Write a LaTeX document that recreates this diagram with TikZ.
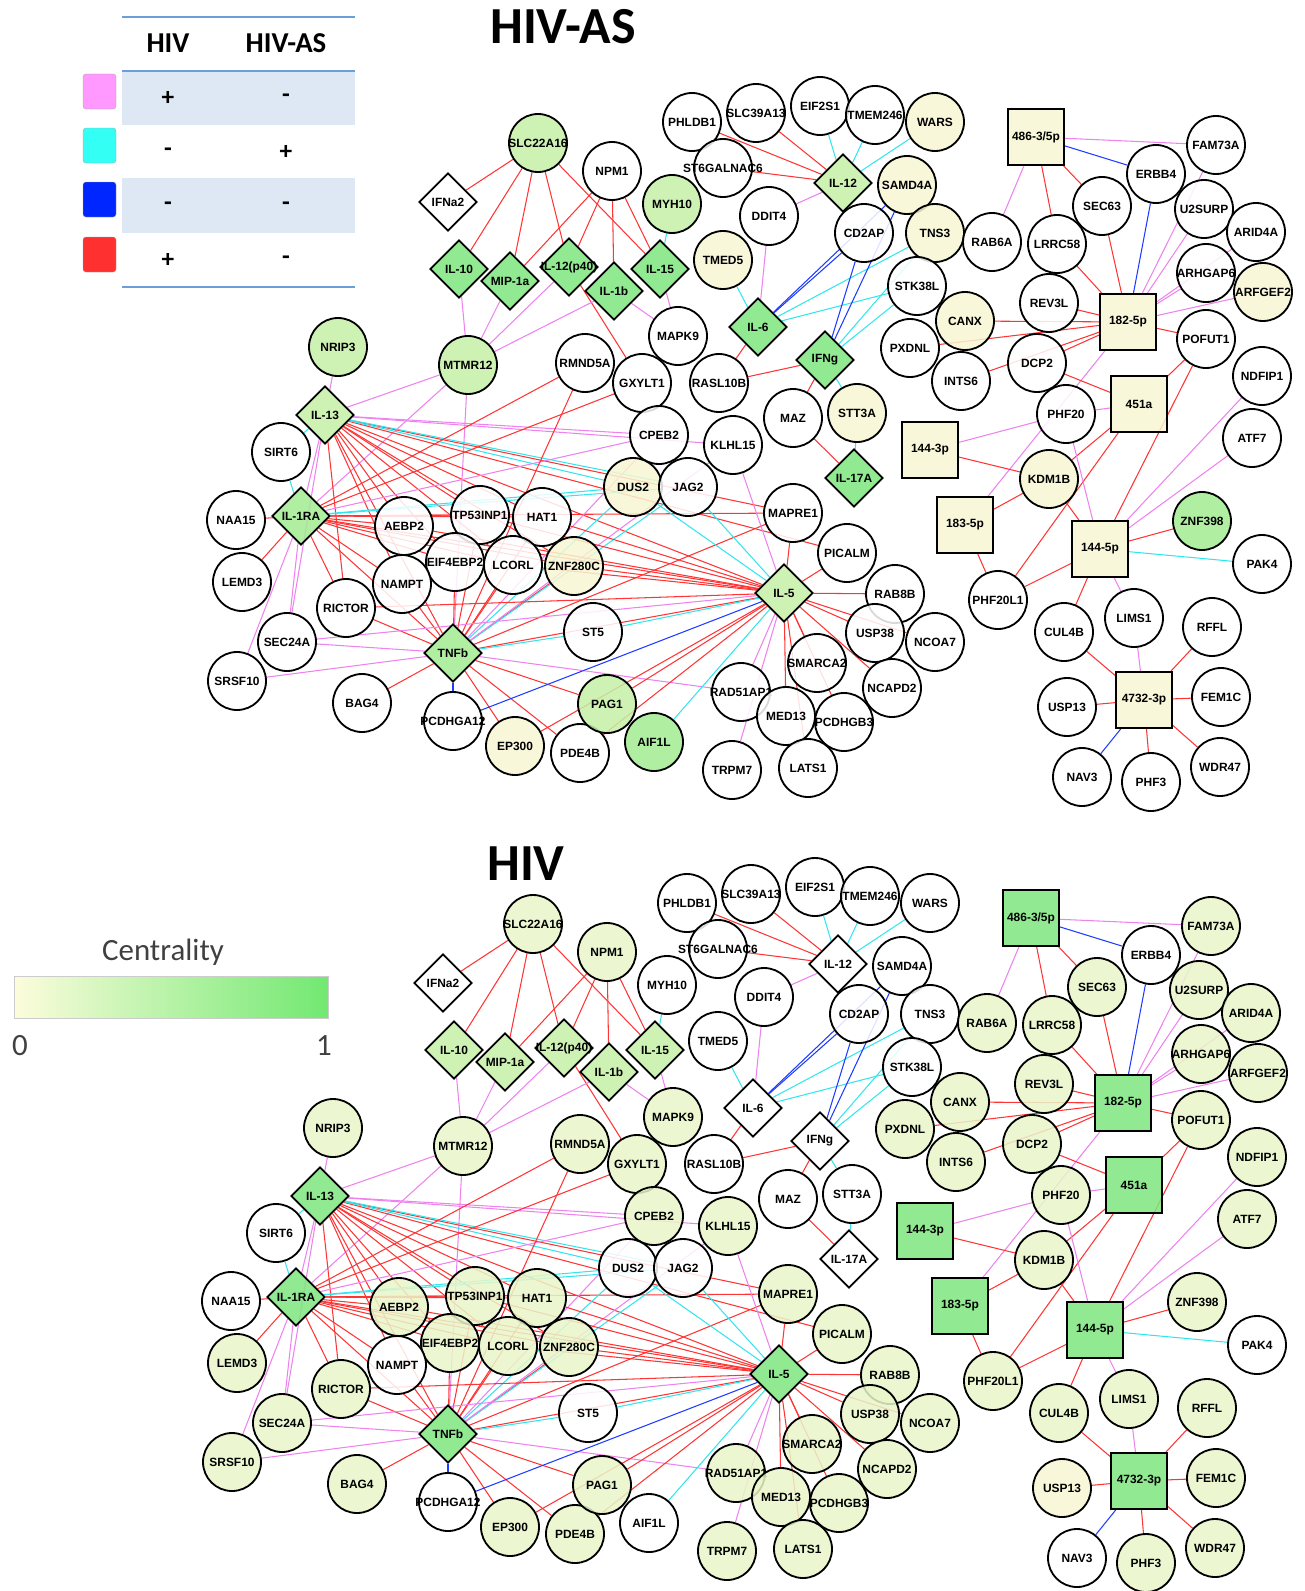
\documentclass[tikz,border=0pt]{standalone}
\usepackage{fontspec}
\newfontfamily\lsans{Liberation Sans}
\newfontfamily\carl{Carlito}
\usetikzlibrary{shapes.geometric,backgrounds}

\definecolor{nw}{HTML}{FFFFFF}
\definecolor{py}{HTML}{F7F6D2}
\definecolor{ly}{HTML}{E9F6C9}
\definecolor{lg}{HTML}{C6F0A6}
\definecolor{mg}{HTML}{A2EB92}
\definecolor{dg}{HTML}{7EE67E}
\definecolor{er}{HTML}{FF3535}
\definecolor{ep}{HTML}{EE82EE}
\definecolor{ec}{HTML}{33E6EE}
\definecolor{eb}{HTML}{1E3CFF}
\definecolor{rule}{HTML}{6C9FD8}
\definecolor{band}{HTML}{DEE8F4}

\newcommand{\genefont}{\lsans\bfseries\fontsize{17}{19}\selectfont}

\tikzset{
  gene/.style={circle,draw=black,line width=2.6pt,minimum size=2.9cm,inner sep=0pt,
    font=\genefont,fill opacity=0.85,text opacity=1},
  cyto/.style={gene,diamond,aspect=1,minimum size=2.9cm},
  mirna/.style={gene,rectangle,minimum size=2.8cm},
  link/.style={line width=1.5pt},
  rulez/.style={rule,line width=2.5pt},
  sign/.style={font=\carl\bfseries\fontsize{36}{38}\selectfont}
}

\begin{document}
\begin{tikzpicture}[x=0.05cm,y=-0.05cm]
\useasboundingbox (0,0) rectangle (1304,1591);

% legend: edge colours
\fill[band] (122,71) rectangle (355,125);
\fill[band] (122,178) rectangle (355,233);
\draw[rulez] (122,17) -- (355,17);
\draw[rulez] (122,71) -- (355,71);
\draw[rulez] (122,287) -- (355,287);
\node[font=\carl\bfseries\fontsize{41}{44}\selectfont] (hhiv) at (168,43) {HIV};
\node[font=\carl\bfseries\fontsize{41}{44}\selectfont] (hhivas) at (286,43) {HIV-AS};
\filldraw[draw=gray!70,fill={rgb,255:red,255;green,153;blue,255},rounded corners=4pt] (83,74) rectangle (116,109);
\filldraw[draw=gray!70,fill={rgb,255:red,51;green,255;blue,245},rounded corners=4pt] (83,128) rectangle (116,163);
\filldraw[draw=gray!70,fill={rgb,255:red,0;green,38;blue,255},rounded corners=4pt] (83,182) rectangle (116,217);
\filldraw[draw=gray!70,fill={rgb,255:red,255;green,48;blue,48},rounded corners=4pt] (83,237) rectangle (116,272);
\node[sign] (s1a) at (168,98) {+};  \node[sign] (s1b) at (286,98) {-};
\node[sign] (s2a) at (168,152) {-}; \node[sign] (s2b) at (286,152) {+};
\node[sign] (s3a) at (168,206) {-}; \node[sign] (s3b) at (286,206) {-};
\node[sign] (s4a) at (168,260) {+}; \node[sign] (s4b) at (286,260) {-};

% legend: centrality
\node[font=\carl\fontsize{44}{46}\selectfont,text=black!75] (ctitle) at (163,952) {Centrality};
\shade[left color=py!80!yellow!40,right color=dg!90!green] (14,976) rectangle (328,1018);
\draw[gray!40,line width=1pt] (14,976) rectangle (328,1018);
\node[font=\carl\fontsize{44}{46}\selectfont,text=black!75] (c0) at (20,1046) {0};
\node[font=\carl\fontsize{44}{46}\selectfont,text=black!75] (c1) at (324,1046) {1};

% titles
\node[font=\carl\bfseries\fontsize{74}{78}\selectfont] (tta) at (563,27) {HIV-AS};
\node[font=\carl\bfseries\fontsize{74}{78}\selectfont] (ttb) at (526,864) {HIV};

% genes: id/x/y/label/fill HIV-AS/fill HIV
\foreach \id/\px/\py/\txt/\fa/\fb in {
  slc22a16/538/143/SLC22A16/lg/ly, npm1/612/171/NPM1/nw/ly, myh10/672/204/MYH10/lg/nw,
  phldb1/692/122/PHLDB1/nw/nw, slc39a13/756/113/SLC39A13/nw/nw, eif2s1/820/106/EIF2S1/nw/nw,
  tmem246/875/115/TMEM246/nw/nw, wars/935/122/WARS/py/nw, st6gal/723/168/ST6GALNAC6/nw/nw,
  samd4a/907/185/SAMD4A/py/nw, ddit4/769/216/DDIT4/nw/nw, cd2ap/864/233/CD2AP/nw/nw,
  tmed5/723/260/TMED5/py/nw, tns3/935/233/TNS3/py/nw, stk38l/917/286/STK38L/nw/nw,
  rasl10b/719/383/RASL10B/nw/nw, mapk9/678/336/MAPK9/nw/ly, rmnd5a/585/363/RMND5A/nw/ly,
  gxylt1/642/383/GXYLT1/nw/ly, mtmr12/468/365/MTMR12/lg/ly, nrip3/338/347/NRIP3/lg/ly,
  sirt6/281/452/SIRT6/nw/nw, cpeb2/659/435/CPEB2/nw/ly, klhl15/733/445/KLHL15/nw/ly,
  maz/793/418/MAZ/nw/nw, stt3a/857/413/STT3A/py/nw, dus2/633/487/DUS2/py/nw,
  jag2/688/487/JAG2/nw/nw, naa15/236/520/NAA15/nw/nw, aebp2/404/526/AEBP2/nw/ly,
  tp53inp1/480/515/TP53INP1/nw/ly, hat1/542/517/HAT1/nw/ly, eif4ebp2/455/562/EIF4EBP2/nw/ly,
  lcorl/513/565/LCORL/nw/ly, znf280c/574/566/ZNF280C/py/ly, lemd3/242/582/LEMD3/nw/ly,
  nampt/402/584/NAMPT/nw/nw, rictor/346/608/RICTOR/nw/ly, sec24a/287/642/SEC24A/nw/ly,
  srsf10/237/681/SRSF10/nw/ly, bag4/362/703/BAG4/nw/ly, pcdhga12/453/721/PCDHGA12/nw/nw,
  ep300/515/746/EP300/py/ly, pde4b/580/753/PDE4B/nw/ly, pag1/607/704/PAG1/lg/ly,
  aif1l/654/742/AIF1L/mg/nw, st5/593/632/ST5/nw/nw, mapre1/793/513/MAPRE1/nw/ly,
  picalm/847/553/PICALM/nw/ly, rab8b/895/594/RAB8B/nw/ly, usp38/875/633/USP38/nw/ly,
  ncoa7/935/642/NCOA7/nw/ly, smarca2/817/663/SMARCA2/nw/ly, ncapd2/892/688/NCAPD2/nw/ly,
  rad51ap1/741/692/RAD51AP1/nw/ly, med13/786/716/MED13/nw/ly, pcdhgb3/844/722/PCDHGB3/nw/ly,
  trpm7/732/770/TRPM7/nw/ly, lats1/808/768/LATS1/nw/ly, fam73a/1216/145/FAM73A/nw/ly,
  erbb4/1156/174/ERBB4/nw/nw, sec63/1102/206/SEC63/nw/ly, u2surp/1204/209/U2SURP/nw/ly,
  arid4a/1256/232/ARID4A/nw/ly, rab6a/992/242/RAB6A/nw/ly, lrrc58/1057/244/LRRC58/nw/ly,
  arhgap6/1206/273/ARHGAP6/nw/ly, arfgef2/1263/292/ARFGEF2/py/ly, rev3l/1049/303/REV3L/nw/ly,
  canx/965/321/CANX/py/ly, pxdnl/910/348/PXDNL/nw/ly, pofut1/1206/339/POFUT1/nw/ly,
  ints6/961/381/INTS6/nw/ly, dcp2/1037/363/DCP2/nw/ly, ndfip1/1262/376/NDFIP1/nw/ly,
  phf20/1066/414/PHF20/nw/ly, atf7/1252/438/ATF7/nw/ly, kdm1b/1049/479/KDM1B/py/ly,
  znf398/1202/521/ZNF398/mg/ly, pak4/1262/564/PAK4/nw/nw, phf20l1/998/600/PHF20L1/nw/ly,
  cul4b/1064/632/CUL4B/nw/ly, lims1/1134/618/LIMS1/nw/ly, rffl/1212/627/RFFL/nw/ly,
  usp13/1067/707/USP13/nw/py, fem1c/1221/697/FEM1C/nw/ly, nav3/1082/777/NAV3/nw/nw,
  phf3/1151/782/PHF3/nw/ly, wdr47/1220/767/WDR47/nw/ly}
{
  \node[gene,fill=\fa] (t\id) at (\px,\py) {\makebox[0pt]{\txt}};
  \node[gene,fill=\fb] (b\id) at ({\px-5},{\py+781}) {\makebox[0pt]{\txt}};
}

% cytokines
\foreach \id/\px/\py/\txt/\fa/\fb in {
  ifna2/448/202/IFNa2/nw/nw, il10/459/269/IL-10/dg/lg, mip1a/510/281/MIP-1a/dg/lg,
  il12p/569/267/IL-12(p40)/dg/lg, il1b/614/291/IL-1b/dg/lg, il15/660/269/IL-15/dg/lg,
  il12/843/183/IL-12/lg/nw, il6/758/327/IL-6/dg/nw, ifng/825/360/IFNg/dg/nw,
  il17a/854/478/IL-17A/dg/nw, il13/325/415/IL-13/lg/dg, il1ra/301/516/IL-1RA/mg/dg,
  tnfb/453/653/TNFb/mg/dg, il5/784/593/IL-5/lg/dg}
{
  \node[cyto,fill=\fa] (t\id) at (\px,\py) {\makebox[0pt]{\txt}};
  \node[cyto,fill=\fb] (b\id) at ({\px-5},{\py+781}) {\makebox[0pt]{\txt}};
}

% miRNAs
\foreach \id/\px/\py/\txt in {
  m486/1036/137/{486-3/5p}, m182/1128/322/182-5p, m451/1139/404/451a, m1443/930/450/144-3p,
  m183/965/525/183-5p, m1445/1100/549/144-5p, m4732/1144/700/4732-3p}
{
  \node[mirna,fill=py] (t\id) at (\px,\py) {\makebox[0pt]{\txt}};
  \node[mirna,fill=dg] (b\id) at ({\px-5},{\py+781}) {\makebox[0pt]{\txt}};
}

\begin{scope}[on background layer]
\foreach \u/\v/\c in {
  slc22a16/ifna2/er, slc22a16/il10/er, slc22a16/mip1a/er, slc22a16/il12p/er, slc22a16/il15/er,
  npm1/mip1a/er, npm1/il12p/er, npm1/il1b/er, npm1/il15/er, myh10/il15/ec,
  il1b/mapk9/ep, il15/mapk9/ep, il12p/gxylt1/er,
  il10/mtmr12/ep, mip1a/mtmr12/ep, il12p/mtmr12/ep, il1b/mtmr12/ep,
  mtmr12/il13/ep, mtmr12/il1ra/ep, mtmr12/tnfb/ep,
  phldb1/il12/er, st6gal/il12/er, slc39a13/il12/er, eif2s1/il12/ec, tmem246/il12/ec,
  wars/il12/ec, ddit4/il12/ep,
  ddit4/il6/ep, tmed5/il6/ec, il6/rasl10b/er, il6/cd2ap/eb, il6/samd4a/eb, il6/stk38l/ec, il6/tns3/ec,
  ifng/cd2ap/eb, ifng/samd4a/eb, ifng/tns3/ec, ifng/stk38l/ec, ifng/rasl10b/er, ifng/maz/er,
  ifng/stt3a/ec, maz/il17a/er, stt3a/il17a/ec,
  m486/fam73a/ep, m486/erbb4/eb, m486/sec63/er, m486/lrrc58/er, m486/rab6a/ep,
  erbb4/m182/eb, sec63/m182/er, lrrc58/m182/er, rev3l/m182/er, canx/m182/er, pxdnl/m182/er,
  ints6/m182/er, dcp2/m182/er, u2surp/m182/ep, arid4a/m182/ep, arhgap6/m182/ep,
  arfgef2/m182/ep, fam73a/m182/ep, pofut1/m182/er, m182/m183/ep,
  dcp2/m451/er, phf20/m451/ep, pofut1/m451/er, pofut1/m1445/er,
  m1443/phf20/ep, m1443/kdm1b/er, m451/kdm1b/er, m451/phf20l1/er, phf20/m1445/ep,
  kdm1b/m183/er, kdm1b/m1445/er, m183/phf20l1/er, phf20l1/m1445/er,
  ndfip1/m1445/ep, atf7/m1445/ep, znf398/m1445/er, pak4/m1445/ec,
  m1445/cul4b/er, m1445/lims1/ep,
  m4732/cul4b/er, m4732/lims1/ep, m4732/rffl/er, m4732/fem1c/er, m4732/wdr47/er,
  m4732/phf3/er, m4732/nav3/eb, m4732/usp13/er,
  il13/nrip3/ep, il13/sirt6/ec, sirt6/il1ra/ec, il13/il1ra/ep,
  il1ra/naa15/er, il1ra/lemd3/er, il1ra/sec24a/ep, il1ra/srsf10/ep, il13/sec24a/ep,
  il13/aebp2/er, il13/nampt/er, il13/rictor/er, il13/tp53inp1/er, il13/hat1/er,
  il13/eif4ebp2/er, il13/lcorl/er, il13/znf280c/er, il13/tnfb/er, il13/mapre1/er,
  il13/picalm/er, il13/il5/er, il13/cpeb2/ep, il13/klhl15/ep, il13/dus2/ec, il13/jag2/ec,
  il1ra/aebp2/er, il1ra/nampt/er, il1ra/rictor/er, il1ra/tp53inp1/er, il1ra/hat1/er,
  il1ra/eif4ebp2/er, il1ra/lcorl/er, il1ra/znf280c/er, il1ra/tnfb/er, il1ra/mapre1/er,
  il1ra/il5/er, il1ra/rmnd5a/er, il1ra/gxylt1/er, il1ra/dus2/ec, il1ra/jag2/ec, il1ra/cpeb2/ep,
  tnfb/nampt/er, tnfb/rictor/er, tnfb/eif4ebp2/er, tnfb/lcorl/er, tnfb/tp53inp1/er,
  tnfb/hat1/er, tnfb/znf280c/er, tnfb/bag4/er, tnfb/ep300/er, tnfb/pde4b/er, tnfb/pag1/er,
  tnfb/il5/er, tnfb/rmnd5a/er, tnfb/mapre1/er, tnfb/dus2/ec, tnfb/jag2/ec, tnfb/st5/ec,
  tnfb/sec24a/ep, tnfb/srsf10/ep, tnfb/rad51ap1/ep, tnfb/klhl15/ep, tnfb/cpeb2/ep,
  tnfb/pcdhga12/eb,
  il5/mapre1/er, il5/picalm/er, il5/rab8b/er, il5/usp38/er, il5/ncoa7/er, il5/ncapd2/er,
  il5/smarca2/er, il5/pcdhgb3/er, il5/med13/er, il5/lats1/er, il5/pag1/er, il5/pde4b/er,
  il5/ep300/er, il5/znf280c/er, il5/lcorl/er, il5/hat1/er, il5/tp53inp1/er, il5/aebp2/er,
  il5/rictor/er, il5/dus2/ec, il5/jag2/ec, il5/st5/ec, il5/aif1l/ec, il5/klhl15/ep,
  il5/rad51ap1/ep, il5/trpm7/ep, il5/sec24a/ep, il5/pcdhga12/eb}
{
  \draw[link,draw=\c] (t\u) -- (t\v);
  \draw[link,draw=\c] (b\u) -- (b\v);
}
\end{scope}
\end{tikzpicture}
\end{document}
